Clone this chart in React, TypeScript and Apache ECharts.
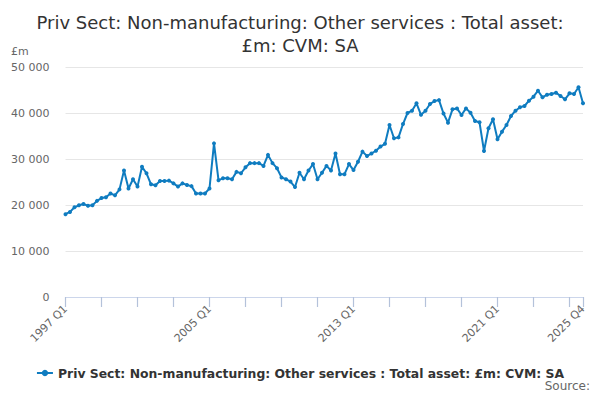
import React, { useEffect, useRef } from "react";
import * as echarts from "echarts";

const startYear = 1997;
const quarterCount = 116;
const categories: string[] = [];
for (let i = 0; i < quarterCount; i++) {
  categories.push(`${startYear + Math.floor(i / 4)} Q${(i % 4) + 1}`);
}

const values: number[] = [
  18000, 18500, 19500, 19950, 20200, 19850, 19950, 20900, 21500, 21700,
  22500, 22100, 23400, 27500, 23600, 25600, 24000, 28300, 26900, 24500,
  24300, 25200, 25200, 25300, 24700, 24000, 24700, 24350, 24100, 22500,
  22500, 22500, 23600, 33400, 25400, 25800, 25800, 25600, 27200, 26900,
  28200, 29100, 29100, 29100, 28500, 30900, 29100, 28000, 26000, 25600,
  25100, 23900, 27000, 25600, 27500, 28900, 25600, 27000, 28500, 27500,
  31200, 26700, 26700, 28900, 27600, 29400, 31600, 30650, 31200, 31800,
  32700, 33300, 37400, 34500, 34700, 37600, 40000, 40500, 42100, 39600,
  40500, 41960, 42600, 42800, 39900, 37900, 40800, 41000, 39570, 41000,
  40070, 38260, 37980, 31740, 36670, 38630, 34280, 35940, 37390, 39350,
  40500, 41240, 41520, 42680, 43540, 44850, 43410, 43980, 44130, 44420,
  43700, 42980, 44280, 44130, 45590, 42100,
];

const seriesName = "Priv Sect: Non-manufacturing: Other services : Total asset: £m: CVM: SA";
const titleText = "Priv Sect: Non-manufacturing: Other services : Total asset:\n£m: CVM: SA";

const lastIndex = categories.length - 1;

export default function App() {
  const ref = useRef<HTMLDivElement>(null);
  useEffect(() => {
    if (!ref.current) return;
    const chart = echarts.init(ref.current, undefined, { renderer: "svg" });
    chart.setOption({
      animation: false,
      backgroundColor: "#ffffff",
      textStyle: { fontFamily: "DejaVu Sans" },
      title: {
        text: titleText,
        left: "center",
        top: 6,
        textStyle: {
          fontFamily: "DejaVu Sans",
          fontSize: 18,
          fontWeight: "normal",
          color: "#333333",
          lineHeight: 23,
        },
      },
      grid: { left: 65.5, right: 17, top: 67, bottom: 103 },
      xAxis: {
        type: "category",
        data: categories,
        boundaryGap: false,
        axisLine: { show: true, onZero: false, lineStyle: { color: "#ccd6eb", width: 1 } },
        axisTick: {
          show: true,
          length: 10,
          lineStyle: { color: "#b4c2da", width: 1.2 },
          interval: (idx: number) => idx % 8 === 0 || idx === lastIndex,
        },
        axisLabel: {
          rotate: 45,
          color: "#666666",
          fontSize: 11,
          fontFamily: "DejaVu Sans",
          margin: 10,
          interval: (idx: number) => idx % 32 === 0 || idx === lastIndex,
        },
        splitLine: { show: false },
      },
      yAxis: {
        type: "value",
        min: 0,
        max: 50000,
        interval: 10000,
        axisLine: { show: false },
        axisTick: { show: false },
        axisLabel: {
          color: "#666666",
          fontSize: 11,
          fontFamily: "DejaVu Sans",
          margin: 16,
          formatter: (v: number) => String(v).replace(/\B(?=(\d{3})+(?!\d))/g, " "),
        },
        splitLine: { lineStyle: { color: "#e6e6e6", width: 1 } },
      },
      legend: {
        bottom: 16,
        left: "center",
        itemWidth: 16,
        itemHeight: 8,
        itemGap: 10,
        textStyle: {
          color: "#333333",
          fontSize: 12.4,
          fontWeight: "bold",
          fontFamily: "DejaVu Sans",
        },
        data: [seriesName],
      },
      graphic: [
        {
          type: "text",
          left: 11,
          top: 46,
          style: { text: "£m", fill: "#666666", font: "11px 'DejaVu Sans'" },
        },
        {
          type: "text",
          right: 10,
          top: 380,
          style: { text: "Source:", fill: "#666666", font: "12px 'DejaVu Sans'" },
        },
      ],
      series: [
        {
          name: seriesName,
          type: "line",
          data: values,
          symbol: "circle",
          symbolSize: 4,
          showSymbol: true,
          showAllSymbol: true,
          z: 3,
          lineStyle: { color: "#0f7cc0", width: 2 },
          itemStyle: { color: "#0f7cc0" },
        },
      ],
    });
    return () => chart.dispose();
  }, []);
  return <div ref={ref} style={{ width: 600, height: 400, margin: -8 }} />;
}
